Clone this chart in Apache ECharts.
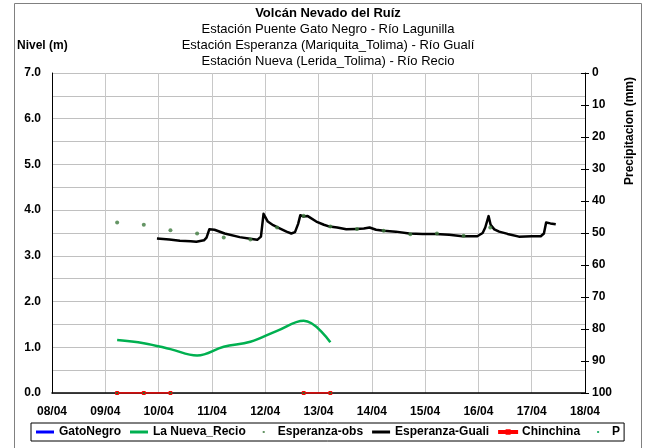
<!DOCTYPE html>
<html>
<head>
<meta charset="utf-8">
<script src="https://cdn.jsdelivr.net/npm/echarts@6/dist/echarts.min.js"></script>
<style>html,body{margin:0;padding:0;background:#fff;}#c{width:645px;height:448px;}</style>
</head>
<body>
<div id="c"></div>
<script>
// ---- data ----
const dayLabels = ['08/04','09/04','10/04','11/04','12/04','13/04','14/04','15/04','16/04','17/04','18/04'];
const levelTicks = [0, 1, 2, 3, 4, 5, 6, 7];
const precipTicks = [0, 10, 20, 30, 40, 50, 60, 70, 80, 90, 100];

const obsTimes = ['2023-04-09 05:20','2023-04-09 17:20','2023-04-10 05:20','2023-04-10 17:20','2023-04-11 05:20','2023-04-11 17:20','2023-04-12 05:20','2023-04-12 17:20','2023-04-13 05:20','2023-04-13 17:20','2023-04-14 05:20','2023-04-14 17:20','2023-04-15 05:20','2023-04-15 17:20','2023-04-16 05:20'];
const obsValues = [3.73, 3.68, 3.56, 3.49, 3.40, 3.36, 3.62, 3.88, 3.64, 3.59, 3.55, 3.47, 3.49, 3.44, 3.62];

const recioTimes = ['2023-04-09 05:20','2023-04-09 17:20','2023-04-10 05:20','2023-04-10 17:20','2023-04-11 05:20','2023-04-11 17:20','2023-04-12 05:20','2023-04-12 17:20','2023-04-13 05:20'];
const recioValues = [1.16, 1.09, 0.96, 0.82, 1.01, 1.12, 1.36, 1.58, 1.11];

const chinchinaTimes = ['2023-04-09 05:20','2023-04-09 17:20','2023-04-10 05:20','2023-04-11 12:00','2023-04-12 17:20','2023-04-13 05:20'];
const chinchinaValues = [0, 0, 0, null, 0, 0];

const gualiTimes = ['2023-04-09 23:15','2023-04-10 04:50','2023-04-10 09:35','2023-04-10 14:25','2023-04-10 17:00','2023-04-10 20:25','2023-04-10 21:35','2023-04-10 22:50','2023-04-11 01:10','2023-04-11 05:45','2023-04-11 12:30','2023-04-11 18:00','2023-04-11 20:25','2023-04-11 22:05','2023-04-11 23:15','2023-04-12 01:10','2023-04-12 03:35','2023-04-12 06:30','2023-04-12 09:35','2023-04-12 11:45','2023-04-12 13:25','2023-04-12 14:50','2023-04-12 15:50','2023-04-12 17:15','2023-04-12 19:10','2023-04-12 23:00','2023-04-13 02:25','2023-04-13 05:00','2023-04-13 08:25','2023-04-13 12:30','2023-04-13 17:00','2023-04-13 20:25','2023-04-13 23:00','2023-04-14 01:55','2023-04-14 05:20','2023-04-14 10:50','2023-04-14 16:50','2023-04-14 22:50','2023-04-15 04:50','2023-04-15 10:50','2023-04-15 16:50','2023-04-15 23:30','2023-04-16 01:55','2023-04-16 03:05','2023-04-16 04:35','2023-04-16 05:30','2023-04-16 07:10','2023-04-16 09:20','2023-04-16 13:10','2023-04-16 18:15','2023-04-17 00:00','2023-04-17 04:05','2023-04-17 05:30','2023-04-17 06:30','2023-04-17 08:25','2023-04-17 10:50'];
const gualiValues = [3.38,3.36,3.33,3.32,3.31,3.34,3.40,3.58,3.57,3.49,3.41,3.37,3.35,3.42,3.92,3.75,3.67,3.60,3.53,3.49,3.52,3.70,3.89,3.86,3.87,3.75,3.68,3.64,3.62,3.58,3.59,3.60,3.62,3.57,3.55,3.53,3.49,3.48,3.48,3.46,3.43,3.43,3.50,3.62,3.87,3.68,3.58,3.53,3.48,3.42,3.43,3.43,3.49,3.73,3.71,3.69];

const gatoNegroTimes = [];
const gatoNegroValues = [];
const pTimes = [];
const pValues = [];

// ---- helpers ----
const DAY = 86400000;
function ts(s) { const p = s.split(' '); return Date.parse(p[0] + 'T' + p[1] + ':00Z'); }
function pairs(times, vals) { return times.map((t, i) => [ts(t), vals[i] === null ? '-' : vals[i]]); }
const xMin = Date.UTC(2023, 3, 8);
const xMax = Date.UTC(2023, 3, 18);
const FONT = "'Liberation Sans', Arial, sans-serif";
const ICON_LINE = 'path://M0,0M18,6M0,1.5h18v3h-18z';
const ICON_LINE_MARK = 'path://M0,0M18,6M0,2h18v2h-18zM7.5,1.25h3v3.5h-3z';
const ICON_DOT = 'path://M0,0M18,6M8,2h2v2h-2z';

const chart = echarts.init(document.getElementById('c'), null, { renderer: 'canvas' });
const option = {
  animation: false,
  backgroundColor: '#fff',
  textStyle: { fontFamily: FONT },
  title: {
    text: 'Volcán Nevado del Ruíz',
    subtext: 'Estación Puente Gato Negro - Río Lagunilla\nEstación Esperanza (Mariquita_Tolima) - Río Gualí\nEstación Nueva (Lerida_Tolima) - Río Recio',
    left: 328, top: 5, textAlign: 'center', padding: 0, itemGap: 0,
    textStyle: { fontFamily: FONT, fontSize: 13, fontWeight: 'bold', color: '#000', lineHeight: 16 },
    subtextStyle: { fontFamily: FONT, fontSize: 13, color: '#000', lineHeight: 16 }
  },
  graphic: [
    { type: 'rect', shape: { x: 14.5, y: 3.5, width: 627, height: 470 }, style: { fill: 'none', stroke: '#808080', lineWidth: 1 }, silent: true, z: -1 },
    { type: 'text', left: 17, top: 40, style: { text: 'Nivel (m)', font: "bold 12px 'Liberation Sans', Arial", fill: '#000' } },
    { type: 'text', x: 630, y: 131, rotation: Math.PI / 2, style: { text: 'Precipitacion (mm)', font: "bold 12px 'Liberation Sans', Arial", fill: '#000', align: 'center', verticalAlign: 'middle' } }
  ],
  legend: {
    left: 31, top: 423,
    padding: [3, 4, 3, 5],
    borderColor: '#000', borderWidth: 1,
    itemWidth: 18, itemHeight: 6, itemGap: 9,
    textStyle: { fontFamily: FONT, fontSize: 12, fontWeight: 'bold', color: '#000' },
    data: [
      { name: 'GatoNegro', icon: ICON_LINE, itemStyle: { color: '#0000ff' } },
      { name: 'La Nueva_Recio', icon: ICON_LINE, itemStyle: { color: '#00b050' } },
      { name: 'Esperanza-obs', icon: ICON_DOT, itemStyle: { color: '#3f7a3f' } },
      { name: 'Esperanza-Guali', icon: ICON_LINE, itemStyle: { color: '#000000' } },
      { name: 'Chinchina', icon: ICON_LINE_MARK, itemStyle: { color: '#ff0000' } },
      { name: 'P', icon: ICON_DOT, itemStyle: { color: '#00a050' } }
    ]
  },
  grid: { left: 52, right: 60, top: 73, bottom: 55 },
  xAxis: {
    type: 'value', min: xMin, max: xMax, interval: DAY,
    axisLine: { show: true, lineStyle: { color: '#000', width: 1.5 } },
    axisTick: { show: false },
    axisLabel: { margin: 13, fontFamily: FONT, fontSize: 12, fontWeight: 'bold', color: '#000',
      formatter: v => dayLabels[Math.round((v - xMin) / DAY)] },
    splitLine: { show: true, lineStyle: { color: '#c8c8c8', width: 1 } }
  },
  yAxis: [
    {
      type: 'value', min: levelTicks[0], max: levelTicks[levelTicks.length - 1], interval: 1, position: 'left',
      axisLine: { show: true, lineStyle: { color: '#000', width: 1 } },
      axisTick: { show: false },
      axisLabel: { margin: 11, fontFamily: FONT, fontSize: 12, fontWeight: 'bold', color: '#000', formatter: v => v.toFixed(1) },
      splitLine: { show: true, lineStyle: { color: '#c0c0c0', width: 1 } },
      minorTick: { show: false, splitNumber: 2 },
      minorSplitLine: { show: true, lineStyle: { color: '#c0c0c0', width: 1 } }
    },
    {
      type: 'value', min: precipTicks[0], max: precipTicks[precipTicks.length - 1], interval: 10, inverse: true, position: 'right',
      axisLine: { show: true, lineStyle: { color: '#000', width: 1 } },
      axisTick: { show: true, inside: false, length: 4, lineStyle: { color: '#000' } },
      axisLabel: { margin: 7, fontFamily: FONT, fontSize: 12, fontWeight: 'bold', color: '#000' },
      splitLine: { show: false }
    },
    {
      type: 'value', min: precipTicks[0], max: precipTicks[precipTicks.length - 1], interval: 10, inverse: true, position: 'right',
      axisLine: { show: false },
      axisTick: { show: true, inside: true, length: 4, lineStyle: { color: '#000' } },
      axisLabel: { show: false },
      splitLine: { show: false }
    }
  ],
  series: [
    { name: 'GatoNegro', type: 'line', data: pairs(gatoNegroTimes, gatoNegroValues), showSymbol: false, symbol: 'none',
      itemStyle: { color: '#0000ff' }, lineStyle: { color: '#0000ff', width: 2.5 } },
    { name: 'La Nueva_Recio', type: 'line', data: pairs(recioTimes, recioValues), smooth: 0.4, showSymbol: false, symbol: 'none',
      itemStyle: { color: '#00b050' }, lineStyle: { color: '#00b050', width: 2.5 }, z: 3 },
    { name: 'Esperanza-obs', type: 'scatter', data: pairs(obsTimes, obsValues), symbol: 'circle', symbolSize: 4,
      itemStyle: { color: '#3f7a3f' }, z: 5 },
    { name: 'Esperanza-Guali', type: 'line', data: pairs(gualiTimes, gualiValues), showSymbol: false, symbol: 'none',
      itemStyle: { color: '#000' }, lineStyle: { color: '#000', width: 2.5, join: 'round' }, z: 4 },
    { name: 'Chinchina', type: 'line', data: pairs(chinchinaTimes, chinchinaValues), symbol: 'rect', symbolSize: 3, showSymbol: true,
      connectNulls: false,
      itemStyle: { color: '#2e6b2e', borderColor: '#ff0000', borderWidth: 1 }, lineStyle: { color: '#ff0000', width: 1.5 }, z: 6 },
    { name: 'P', type: 'scatter', yAxisIndex: 1, data: pairs(pTimes, pValues), symbol: 'circle', symbolSize: 4,
      itemStyle: { color: '#00a050' } }
  ]
};
chart.setOption(option);
</script>
</body>
</html>
